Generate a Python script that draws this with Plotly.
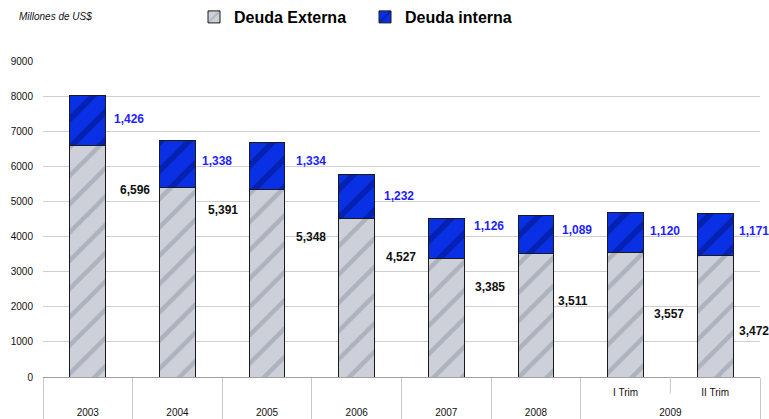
import plotly.graph_objects as go

# ---- data ----
years = ["2003", "2004", "2005", "2006", "2007", "2008", "2009", "2009"]
periods = [" ", " ", " ", " ", " ", " ", "I Trim", "II Trim"]
deuda_externa = [6596, 5391, 5348, 4527, 3385, 3511, 3557, 3472]
deuda_interna = [1426, 1338, 1334, 1232, 1126, 1089, 1120, 1171]

# label placement (data units for y, pixel offsets for x)
ext_label_y = [5326, 4756, 3987, 3418, 2563, 2165, 1794, 1310]
int_label_y = [7348, 6152, 6152, 5155, 4301, 4187, 4158, 4158]
ext_label_dx = [12, 11, 9, 9, 9, 2, 9, 4]
int_label_dx = [6, 5, 9, 7, 8, 6, 5, 4]

FONT = "Liberation Sans, Arial, sans-serif"
BAR_W = 0.4
W, H = 769, 419
ML, MR, MT, MB = 43, 9, 61, 42

# inner tick labels get an empty second line so the outer (year) row sits lower
periods_disp = [p + "<br> " for p in periods]
xcats = [years, periods_disp]

fig = go.Figure()
fig.add_trace(go.Bar(
    x=xcats, y=deuda_externa, name="Deuda Externa", width=BAR_W,
    marker=dict(color="#cdd0d8", line=dict(color="#1a1a1a", width=1),
                pattern=dict(shape="/", fgcolor="#8e94a6", size=20, solidity=0.22)),
))
fig.add_trace(go.Bar(
    x=xcats, y=deuda_interna, name="Deuda interna", width=BAR_W,
    marker=dict(color="#0a30e6", line=dict(color="#1a1a1a", width=1),
                pattern=dict(shape="/", fgcolor="#00127e", size=20, solidity=0.3)),
))

annotations = []
for i in range(len(years)):
    annotations.append(dict(
        x=i + BAR_W / 2, y=ext_label_y[i], xref="x", yref="y",
        text="<b>{:,}</b>".format(deuda_externa[i]), showarrow=False,
        xanchor="left", yanchor="middle", xshift=ext_label_dx[i],
        font=dict(family=FONT, size=12, color="#111111")))
    annotations.append(dict(
        x=i + BAR_W / 2, y=int_label_y[i], xref="x", yref="y",
        text="<b>{:,}</b>".format(deuda_interna[i]), showarrow=False,
        xanchor="left", yanchor="middle", xshift=int_label_dx[i],
        font=dict(family=FONT, size=12, color="#1f1fff")))

pw, ph = W - ML - MR, H - MT - MB
annotations.append(dict(
    xref="paper", yref="paper", x=(17 - ML) / pw, y=(H - MB - 17) / ph,
    xanchor="left", yanchor="middle",
    text="<i>Millones de US$</i>", showarrow=False,
    font=dict(family=FONT, size=10, color="#111111")))

fig.update_layout(
    width=W, height=H,
    margin=dict(l=ML, r=MR, t=MT, b=MB, autoexpand=False),
    barmode="stack",
    paper_bgcolor="white", plot_bgcolor="white",
    font=dict(family=FONT, size=10, color="#111111"),
    showlegend=True,
    legend=dict(orientation="h", xref="container", yref="container",
                x=194 / W, y=1.0, xanchor="left", yanchor="top",
                font=dict(family=FONT, size=16, color="#000000", weight="bold"),
                entrywidth=126, entrywidthmode="pixels",
                traceorder="normal", itemclick=False),
    xaxis=dict(type="multicategory", showgrid=False, showline=True,
               range=[-0.5, len(years) - 0.5],
               linecolor="#a0a0a0", linewidth=1, ticks="", automargin=False,
               showdividers=True, dividercolor="#c8c8c8", dividerwidth=1,
               ticklabelstandoff=6,
               tickfont=dict(family=FONT, size=10, color="#111111")),
    yaxis=dict(range=[0, 9000], dtick=1000, tickformat="d", automargin=False,
               showgrid=True, gridcolor="#cfcfcf", gridwidth=1,
               zeroline=False, showline=False, ticks="",
               ticklabelstandoff=9,
               tickfont=dict(family=FONT, size=10, color="#111111")),
    annotations=annotations,
)

# short divider between the two 2009 sub-periods
n = len(years)
fig.add_shape(type="line", xref="paper", yref="paper",
              x0=(n - 1) / n, x1=(n - 1) / n, y0=0, y1=-16 / ph,
              line=dict(color="#c8c8c8", width=1))

fig.write_html("out.html", config={"displayModeBar": False},
               post_script="document.body.style.margin='0';document.body.style.overflow='hidden';")
